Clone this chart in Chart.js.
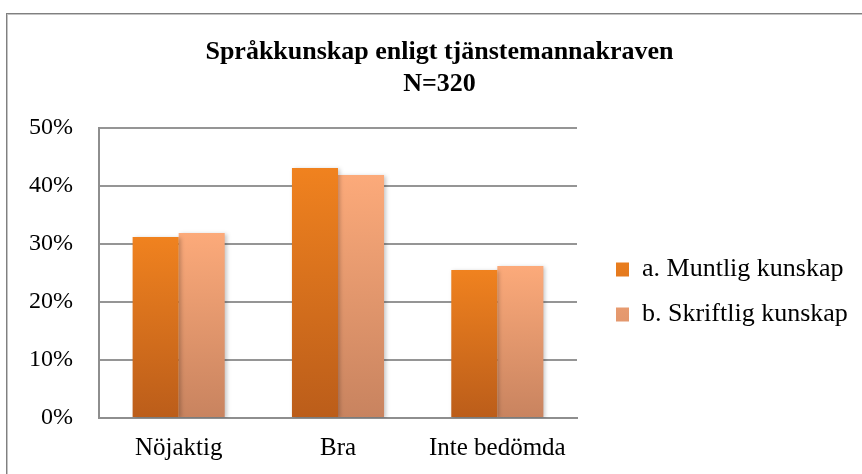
<!DOCTYPE html>
<html>
<head>
<meta charset="utf-8">
<script src="https://cdn.jsdelivr.net/npm/chart.js@4/dist/chart.umd.min.js"></script>
<style>
  body { margin: 0; background: #fff; }
  #wrap { position: relative; width: 862px; height: 474px; overflow: hidden; }
  #frame {
    position: absolute; left: 6px; top: 13px; width: 900px; height: 500px;
    border: 1px solid #808080; box-shadow: inset 0 0 0 1px #c4c4c4;
  }
  #myChart { position: absolute; left: 0; top: 0; }
</style>
</head>
<body>
<div id="wrap">
  <div id="frame"></div>
  <canvas id="myChart" width="862" height="474"></canvas>
</div>
<script>
const categories = ['Nöjaktig', 'Bra', 'Inte bedömda'];
const muntlig = [31.2, 43.1, 25.5];
const skriftlig = [31.9, 41.9, 26.2];
const yTicks = [0, 10, 20, 30, 40, 50];

const serif = "'Liberation Serif', 'Times New Roman', serif";

// colours top -> bottom of each bar
const orange = ['#f0821f', '#bb5d1a'];
const peach = ['#fcaa7a', '#c8835f'];

function barGradient(ctx, cols) {
  const chart = ctx.chart;
  if (!chart.chartArea || !chart.scales.y) return cols[0];
  const y = chart.scales.y;
  const top = ctx.raw != null ? y.getPixelForValue(ctx.raw) : chart.chartArea.top;
  const bottom = y.getPixelForValue(0);
  const g = chart.ctx.createLinearGradient(0, top, 0, bottom);
  g.addColorStop(0, cols[0]);
  g.addColorStop(1, cols[1]);
  return g;
}

// nudge the title + legend into place and give bars a soft shadow
const tweaks = {
  id: 'tweaks',
  afterLayout(chart) {
    const t = chart.titleBlock;
    t.left += 20;
    t.right += 20;
    const lg = chart.legend;
    lg.left += 20;
    lg.right = chart.width;
    lg.top += 55;
    lg.bottom += 55;
  },
  beforeDatasetsDraw(chart) {
    const c = chart.ctx;
    c.save();
    c.shadowColor = 'rgba(0,0,0,0.22)';
    c.shadowBlur = 4;
    c.shadowOffsetX = 2;
    c.shadowOffsetY = 1;
  },
  afterDatasetsDraw(chart) {
    chart.ctx.restore();
  }
};

const chartCtx = document.getElementById('myChart').getContext('2d');

const myChart = new Chart(chartCtx, {
  type: 'bar',
  data: {
    labels: categories,
    datasets: [{
      label: 'a. Muntlig kunskap',
      data: muntlig,
      backgroundColor: ctx => barGradient(ctx, orange),
      categoryPercentage: 0.578,
      barPercentage: 1
    }, {
      label: 'b. Skriftlig kunskap',
      data: skriftlig,
      backgroundColor: ctx => barGradient(ctx, peach),
      categoryPercentage: 0.578,
      barPercentage: 1
    }]
  },
  options: {
    responsive: false,
    animation: false,
    layout: {
      padding: { left: 22, right: 45, top: 0, bottom: 0 }
    },
    plugins: {
      title: {
        display: true,
        text: ['Språkkunskap enligt tjänstemannakraven', 'N=320'],
        color: '#000',
        font: { family: serif, size: 26, weight: 'bold', lineHeight: 1.23 },
        padding: { top: 36, bottom: 28 }
      },
      legend: {
        position: 'right',
        maxWidth: 240,
        labels: {
          color: '#000',
          font: { family: serif, size: 26 },
          boxWidth: 13,
          boxHeight: 14,
          padding: 19
        }
      },
      tooltip: { enabled: false }
    },
    scales: {
      x: {
        afterFit: scale => { scale.height = 56; },
        grid: { display: false },
        border: { display: true, color: '#8e8e8e', width: 2 },
        ticks: {
          color: '#000',
          font: { family: serif, size: 25 },
          padding: 7
        }
      },
      y: {
        min: 0,
        max: 50,
        afterBuildTicks: scale => {
          scale.ticks = yTicks.map(v => ({ value: v }));
        },
        afterFit: scale => { scale.width = 77; },
        grid: { color: '#959595', lineWidth: 2, drawTicks: false },
        border: { display: true, color: '#8e8e8e', width: 2 },
        ticks: {
          color: '#000',
          font: { family: serif, size: 24 },
          padding: 26,
          callback: v => v + '%'
        }
      }
    }
  },
  plugins: [tweaks]
});
</script>
</body>
</html>
